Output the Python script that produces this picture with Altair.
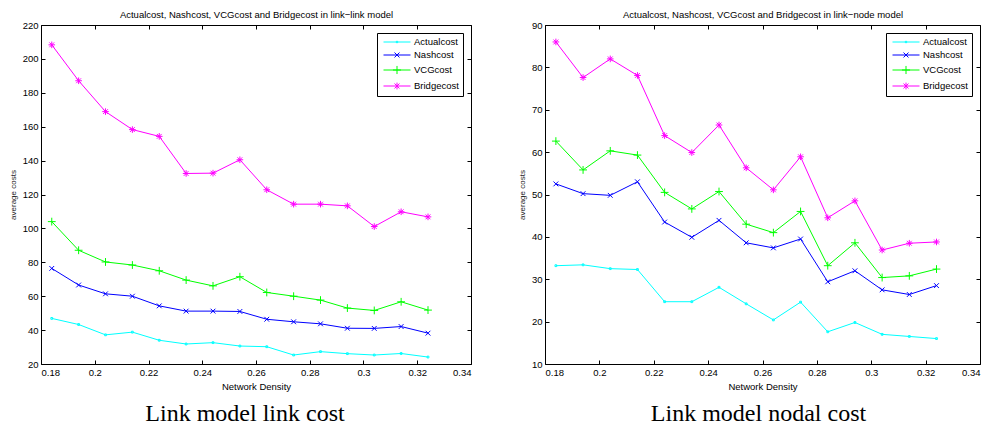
import altair as alt
import pandas as pd

density = [0.184, 0.194, 0.204, 0.214, 0.224, 0.234, 0.244, 0.254,
           0.264, 0.274, 0.284, 0.294, 0.304, 0.314, 0.324]
series_names = ["Actualcost", "Nashcost", "VCGcost", "Bridgecost"]
series_colors = ["#00FFFF", "#0000FF", "#00FF00", "#FF00FF"]

# link-link model
link_actual = [46.9, 43.3, 37.2, 38.8, 34.0, 31.8, 32.6, 30.6, 30.2, 25.3, 27.3, 26.1, 25.3, 26.2, 24.1]
link_nash = [76.4, 66.6, 61.4, 60.0, 54.3, 51.2, 51.2, 51.0, 46.4, 44.9, 43.7, 41.1, 41.0, 42.1, 38.2]
link_vcg = [104.0, 87.1, 80.2, 78.4, 75.0, 69.5, 66.1, 71.5, 62.2, 60.0, 57.7, 53.0, 51.6, 56.7, 51.8]
link_bridge = [208.3, 187.1, 168.9, 158.3, 154.3, 132.4, 132.6, 140.5, 122.8, 114.3, 114.3, 113.3, 101.1, 109.8, 106.8]

# link-node model
node_actual = [33.2, 33.4, 32.5, 32.3, 24.7, 24.7, 28.1, 24.2, 20.4, 24.6, 17.6, 19.8, 17.0, 16.5, 16.0]
node_nash = [52.5, 50.2, 49.8, 53.0, 43.5, 39.9, 43.9, 38.6, 37.4, 39.5, 29.4, 32.0, 27.5, 26.4, 28.5]
node_vcg = [62.6, 55.8, 60.3, 59.3, 50.5, 46.6, 50.7, 43.0, 41.0, 46.0, 33.2, 38.6, 30.4, 30.8, 32.4]
node_bridge = [86.0, 77.6, 82.0, 78.1, 63.9, 59.9, 66.4, 56.3, 51.1, 58.9, 44.5, 48.5, 36.9, 38.5, 38.8]

x_ticks = [0.18, 0.2, 0.22, 0.24, 0.26, 0.28, 0.3, 0.32, 0.34]
link_y_ticks = [20, 40, 60, 80, 100, 120, 140, 160, 180, 200, 220]
node_y_ticks = [10, 20, 30, 40, 50, 60, 70, 80, 90]

link_title = "Actualcost, Nashcost, VCGcost and Bridgecost in link\u2212link model"
node_title = "Actualcost, Nashcost, VCGcost and Bridgecost in link\u2212node model"
link_caption = "Link model link cost"
node_caption = "Link model nodal cost"

# marker shapes: '.', 'x', '+', '*'
marker_paths = [
    "M-0.3,-0.3L0.3,-0.3L0.3,0.3L-0.3,0.3Z",
    "M-0.8,-0.8L0.8,0.8M-0.8,0.8L0.8,-0.8",
    "M-1.3,0L1.3,0M0,-1.3L0,1.3",
    "M-1.1,0L1.1,0M0,-1.1L0,1.1M-0.8,-0.8L0.8,0.8M-0.8,0.8L0.8,-0.8",
]
legend_paths = [
    "M-1,0L5,0M1.85,-0.15L2.15,-0.15L2.15,0.15L1.85,0.15Z",
    "M-1,0L5,0M1.45,-0.55L2.55,0.55M1.45,0.55L2.55,-0.55",
    "M-1,0L5,0M1.1,0L2.9,0M2,-0.9L2,0.9",
    "M-1,0L5,0M2,-0.75L2,0.75M1.45,-0.55L2.55,0.55M1.45,0.55L2.55,-0.55",
]

FONT = "Liberation Sans"
H = 339


def long_df(lists):
    rows = []
    for name, vals in zip(series_names, lists):
        for d, v in zip(density, vals):
            rows.append({"density": d, "cost": v, "series": name})
    return pd.DataFrame(rows)


def tick_axis(orient, offset, values):
    return alt.Axis(orient=orient, offset=offset, values=values, domain=False,
                    labels=False, grid=False, ticks=True, tickSize=4,
                    tickColor="black", tickWidth=1, title=None)


def panel(df, ydomain, yticks, small_title, caption, W, cap_dx):
    xs = alt.Scale(domain=[0.18, 0.34], nice=False, zero=False)
    ys = alt.Scale(domain=ydomain, nice=False, zero=False)
    cs = alt.Scale(domain=series_names, range=series_colors)
    base = alt.Chart(df)

    lines = base.mark_line(strokeWidth=1).encode(
        x=alt.X("density:Q", scale=xs, axis=alt.Axis(
            orient="bottom", values=x_ticks, format=".2~f", ticks=False, tickSize=0,
            domain=False, grid=False, labelPadding=3, labelFontSize=9.5,
            labelColor="black", labelFont=FONT, title="Network Density",
            titleFont=FONT, titleFontSize=9.5, titleFontWeight="normal",
            titleColor="black", titlePadding=5)),
        y=alt.Y("cost:Q", scale=ys, axis=alt.Axis(
            orient="left", values=yticks, ticks=False, tickSize=0, domain=False,
            grid=False, labelPadding=3, labelFontSize=9.5, labelColor="black",
            labelFont=FONT, title="average costs", titleFont=FONT,
            titleFontSize=8, titleFontWeight="normal", titleColor="#222222",
            titlePadding=5)),
        color=alt.Color("series:N", scale=cs, legend=None),
    )

    points = base.mark_point(filled=False, size=36, strokeWidth=1, opacity=1).encode(
        x=alt.X("density:Q", scale=xs, axis=tick_axis("top", -H, x_ticks)),
        y=alt.Y("cost:Q", scale=ys, axis=tick_axis("right", -W, yticks)),
        color=alt.Color("series:N", scale=cs, legend=None),
        shape=alt.Shape("series:N", scale=alt.Scale(domain=series_names, range=marker_paths),
                        legend=None),
    )

    leg = alt.Legend(title=None, orient="top-right", offset=8, padding=4,
                     strokeColor="black", fillColor="white", labelFont=FONT,
                     labelFontSize=9.5, labelColor="black", symbolSize=81,
                     symbolStrokeWidth=1, symbolOffset=2, labelOffset=21, rowPadding=3)

    legend_layer = base.transform_filter("false").mark_point(
        filled=False, size=81, strokeWidth=1, opacity=1).encode(
        x=alt.X("density:Q", scale=xs, axis=tick_axis("bottom", -H, x_ticks)),
        y=alt.Y("cost:Q", scale=ys, axis=tick_axis("left", -W, yticks)),
        color=alt.Color("series:N", scale=cs, legend=leg),
        shape=alt.Shape("series:N", scale=alt.Scale(domain=series_names, range=legend_paths),
                        legend=leg),
    )

    title_layer = base.transform_filter("false").mark_point(opacity=0).encode(
        x=alt.X("density:Q", scale=xs, axis=alt.Axis(
            orient="top", labels=False, ticks=False, domain=False, grid=False,
            title=small_title, titleFont=FONT, titleFontSize=9.5,
            titleFontWeight="normal", titleColor="black", titlePadding=6)),
        y=alt.Y("cost:Q", scale=ys, axis=None),
    )

    return alt.layer(lines, points, legend_layer, title_layer).resolve_scale(
        color="independent", shape="independent"
    ).resolve_axis(x="independent", y="independent").properties(
        width=W, height=H,
        title=alt.TitleParams(caption, orient="bottom", font="Liberation Serif",
                              fontSize=24, fontWeight="normal", color="black",
                              offset=11, dx=cap_dx),
    )


left = panel(long_df([link_actual, link_nash, link_vcg, link_bridge]), [20, 220],
             link_y_ticks, link_title, link_caption, 430, -11)
right = panel(long_df([node_actual, node_nash, node_vcg, node_bridge]), [10, 90],
              node_y_ticks, node_title, node_caption, 435, -4)

chart = alt.hconcat(left, right, spacing=45).resolve_scale(
    color="independent", shape="independent"
).properties(
    padding={"left": 0, "top": 0, "right": 0, "bottom": 0}
).configure_view(stroke="black", strokeWidth=1)

chart.save("out.html", embed_options={"renderer": "svg", "actions": False})
